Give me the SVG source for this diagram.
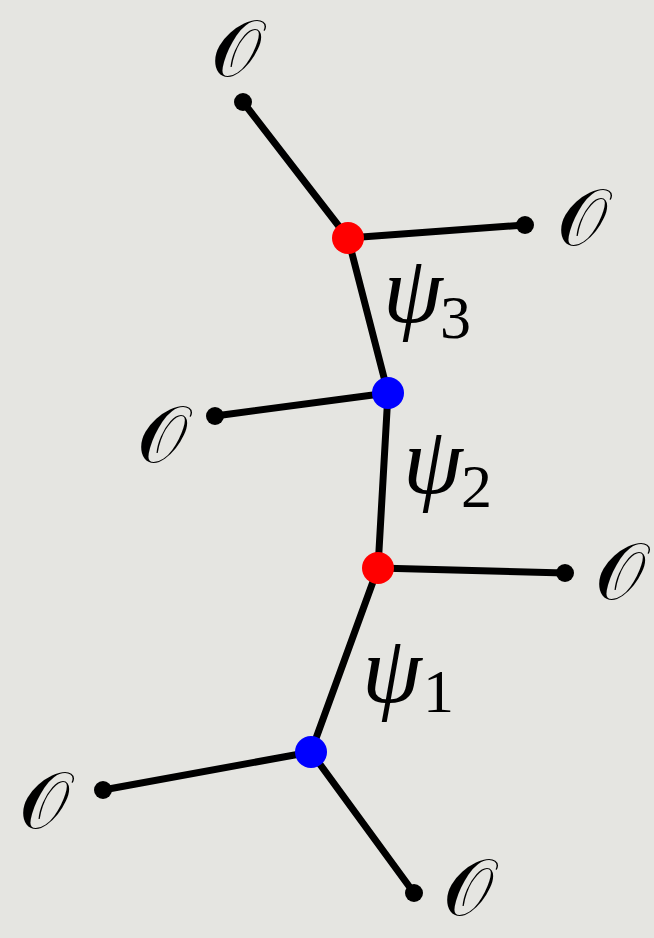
<svg xmlns="http://www.w3.org/2000/svg" width="654" height="938" viewBox="0 0 654 938">
<style>
.e{stroke:#000;stroke-width:7;stroke-linecap:round;fill:none}
.t{fill:#000;stroke:none}
.o{font-family:"DejaVu Serif","Liberation Serif",serif;font-size:80px;text-anchor:middle}
.p{font-family:"Liberation Serif",serif;font-size:96px;font-style:italic}
.s{font-family:"Liberation Serif",serif;font-size:62px}
</style>
<rect width="654" height="938" fill="#e5e5e1"/>
<g id="edges">
<line class="e" x1="243" y1="102" x2="348" y2="238"/>
<line class="e" x1="348" y1="238" x2="525" y2="225"/>
<line class="e" x1="348" y1="238" x2="388" y2="393"/>
<line class="e" x1="388" y1="393" x2="215" y2="416"/>
<line class="e" x1="388" y1="393" x2="378" y2="568"/>
<line class="e" x1="378" y1="568" x2="565" y2="573"/>
<line class="e" x1="378" y1="568" x2="311" y2="752"/>
<line class="e" x1="311" y1="752" x2="103" y2="790"/>
<line class="e" x1="311" y1="752" x2="414" y2="893"/>
</g>
<g id="ends">
<circle class="t" cx="243" cy="102" r="9"/>
<circle class="t" cx="525" cy="225" r="9"/>
<circle class="t" cx="215" cy="416" r="9"/>
<circle class="t" cx="565" cy="573" r="9"/>
<circle class="t" cx="103" cy="790" r="9"/>
<circle class="t" cx="414" cy="893" r="9"/>
</g>
<g id="n1"><circle cx="348" cy="238" r="16" fill="#ff0000"/></g>
<g id="n2"><circle cx="388" cy="393" r="16" fill="#0000ff"/></g>
<g id="n3"><circle cx="378" cy="568" r="16" fill="#ff0000"/></g>
<g id="n4"><circle cx="311" cy="752" r="16" fill="#0000ff"/></g>
<g id="labels">
<text class="t o" x="236" y="76">𝒪</text>
<text class="t o" x="582" y="245">𝒪</text>
<text class="t o" x="162" y="462">𝒪</text>
<text class="t o" x="620" y="599">𝒪</text>
<text class="t o" x="44" y="828">𝒪</text>
<text class="t o" x="468" y="915">𝒪</text>
<text class="t p" x="383" y="322">ψ</text><text class="t s" x="440" y="338">3</text>
<text class="t p" x="403" y="493">ψ</text><text class="t s" x="461" y="507">2</text>
<text class="t p" x="362" y="702">ψ</text><text class="t s" x="423" y="712">1</text>
</g>
</svg>
